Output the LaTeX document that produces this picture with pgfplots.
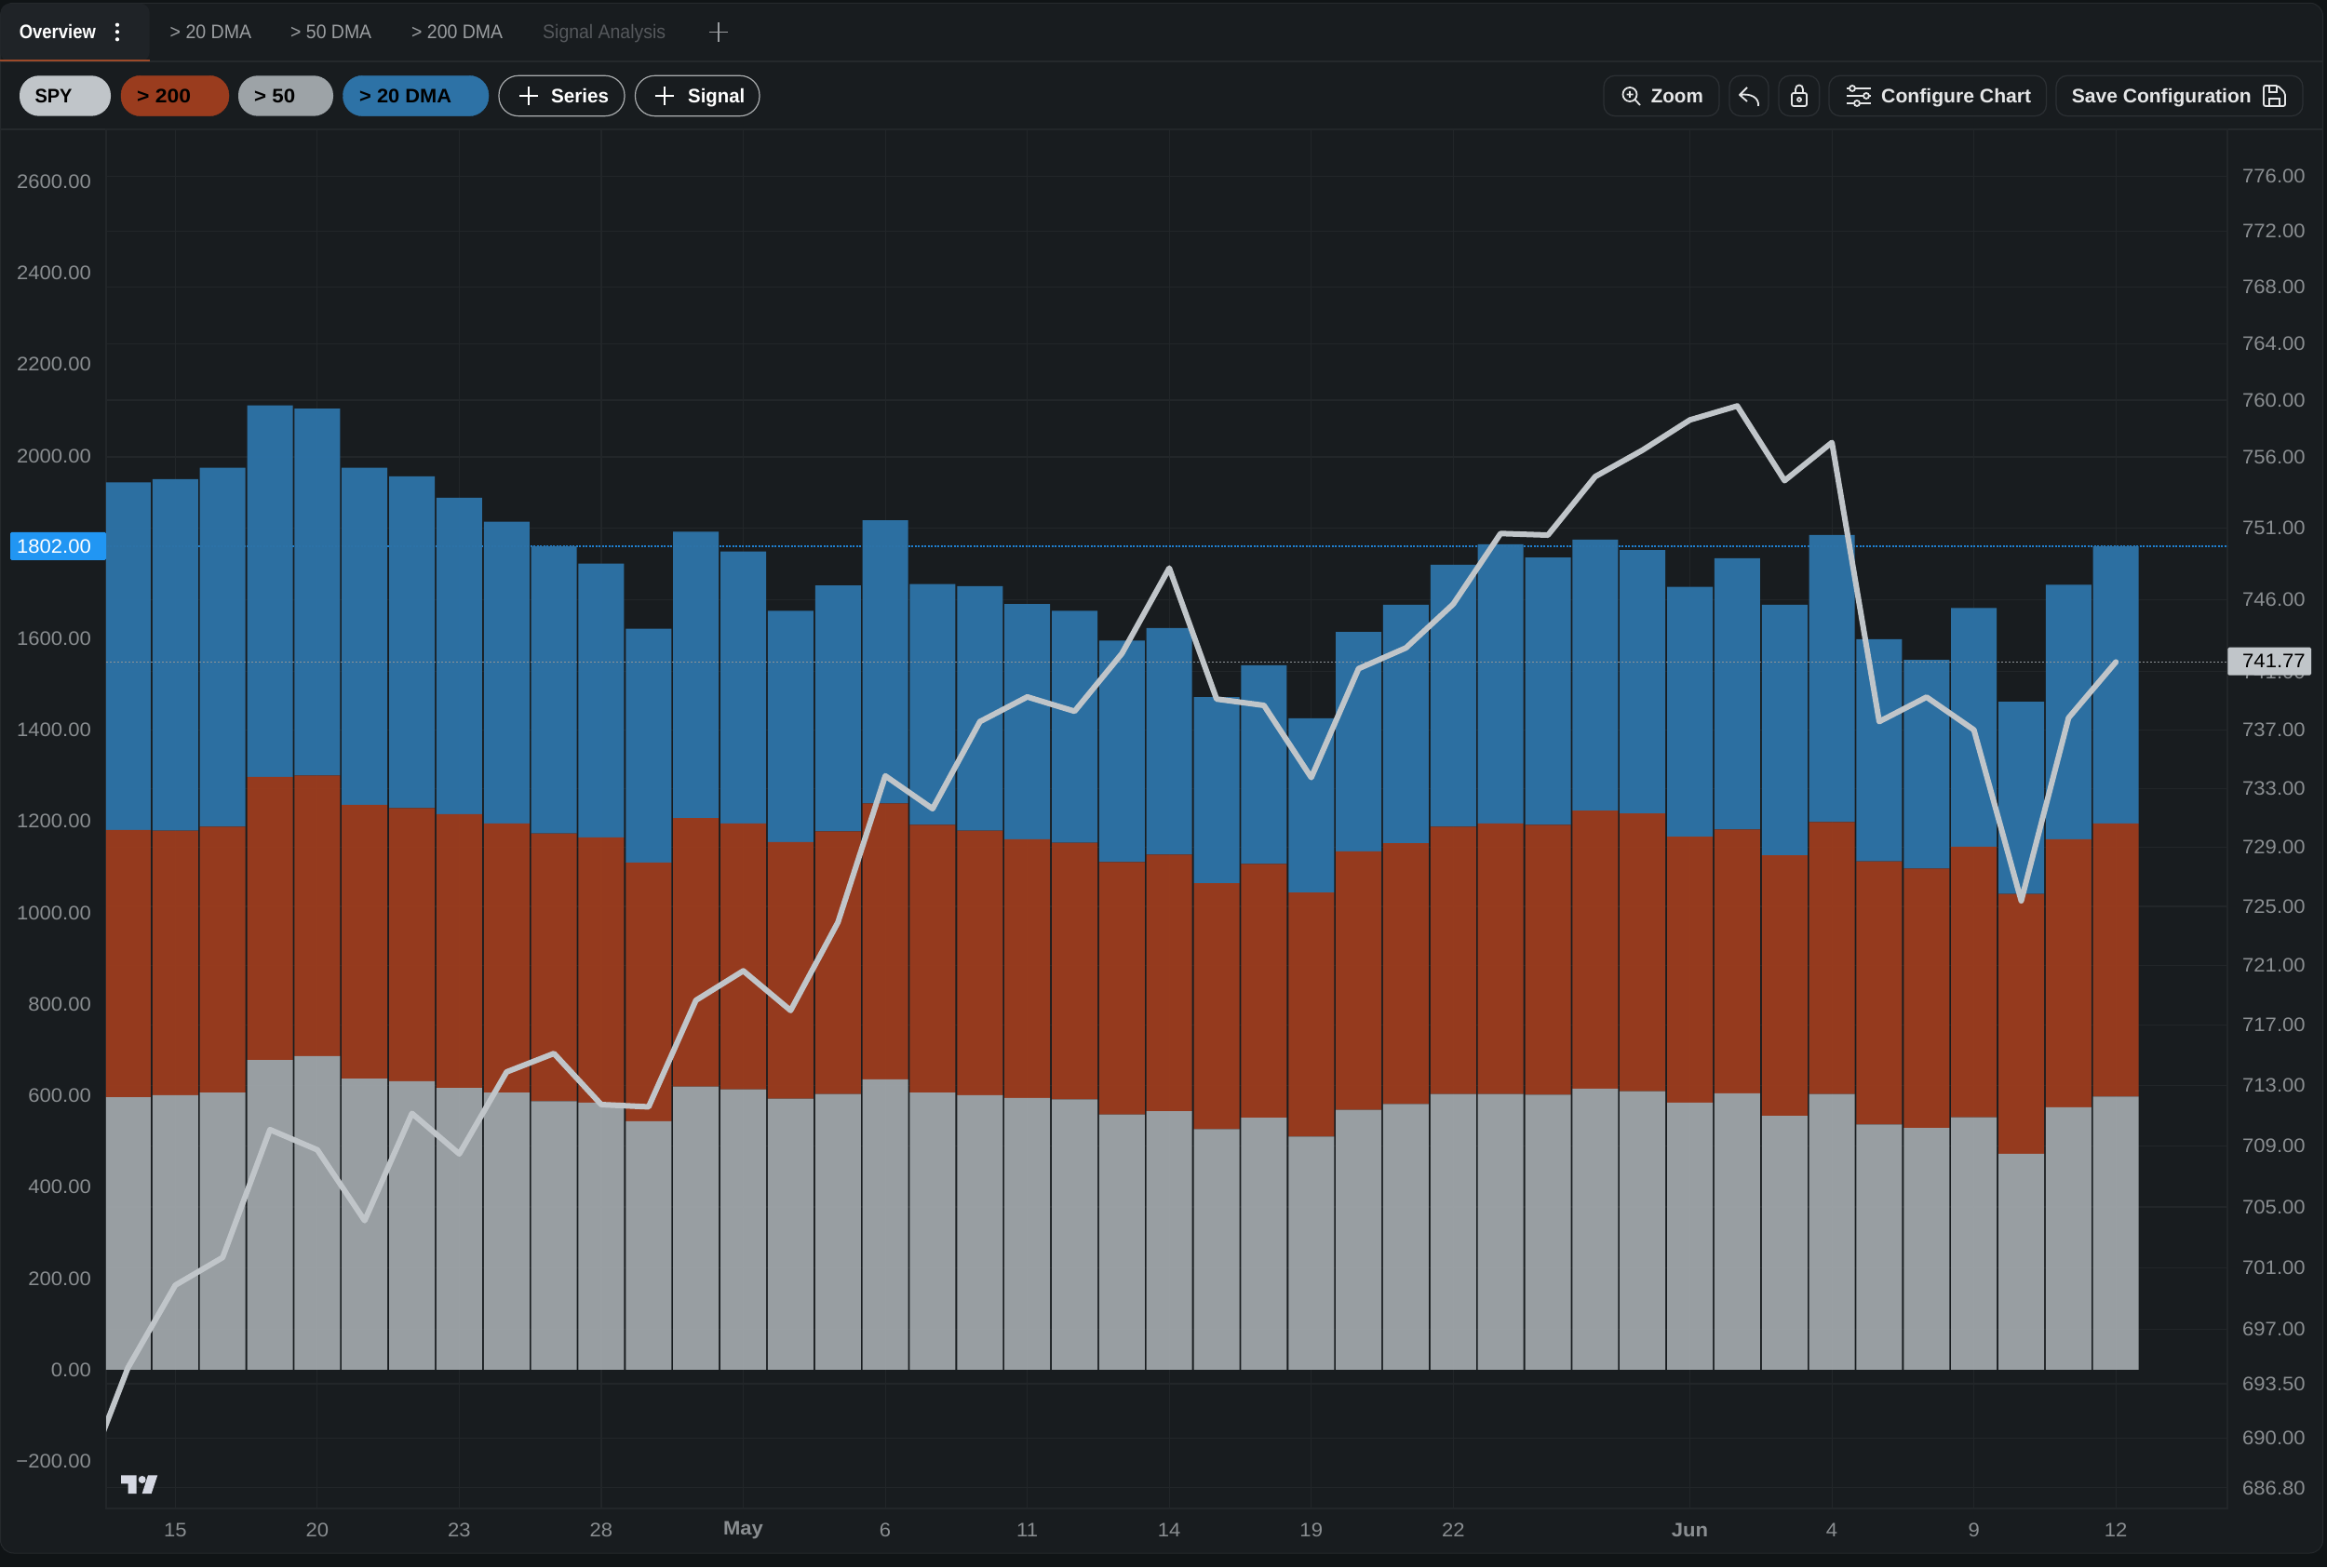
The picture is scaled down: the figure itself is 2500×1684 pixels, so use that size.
\documentclass[border=0pt]{standalone}
\usepackage{graphicx}
\usepackage{fontspec}
\setmainfont[FakeStretch=1.05]{Liberation Sans}
\newfontfamily\uireg{Liberation Sans}
\newcommand{\uimed}{\uireg\bfseries}
\usepackage{pgfplots}
\usepackage{pgfplotstable}
\pgfplotsset{compat=1.18}
\definecolor{pagebg}{HTML}{101416}
\definecolor{panelbg}{HTML}{181C1F}
\definecolor{tabbg}{HTML}{1F2327}
\definecolor{sep}{HTML}{25292C}
\definecolor{gridc}{HTML}{222629}
\definecolor{ticktxt}{HTML}{8A8E91}
\definecolor{barblue}{HTML}{2D72A6}
\definecolor{barred}{HTML}{9A3C1E}
\definecolor{bargrey}{HTML}{9DA3A7}
\definecolor{spyc}{HTML}{C0C5C9}
\definecolor{btnborder}{HTML}{2B2F33}
\definecolor{btntxt}{HTML}{E5E6E7}
\definecolor{tabtxt}{HTML}{9A9DA0}
\definecolor{tabdim}{HTML}{55585C}
\definecolor{tabline}{HTML}{9C4A2A}
\definecolor{outline}{HTML}{A9ACAE}
\definecolor{logoc}{HTML}{D5D8E3}
\definecolor{badge}{HTML}{2196F3}
\definecolor{refblue}{HTML}{1F7FCF}
\pgfplotstableread{
i grey red blue
0 596.3 584.7 760.7
1 600.7 578.9 769.4
2 606.5 581.8 785.4
3 677.8 619.6 813.1
4 686.5 613.8 802.9
5 637.1 599.3 737.4
6 631.3 597.8 725.8
7 616.7 599.3 692.3
8 606.5 589.1 660.3
9 587.6 586.2 628.3
10 584.7 580.3 599.3
11 544.0 565.8 512.0
12 619.6 587.6 626.9
13 613.8 581.8 594.9
14 593.4 561.4 506.2
15 603.6 574.5 538.2
16 635.6 603.6 619.6
17 606.5 586.2 526.5
18 600.7 578.9 535.3
19 594.9 565.8 514.9
20 592.0 561.4 507.6
21 558.5 552.7 484.3
22 565.8 561.4 496.0
23 526.5 538.2 407.3
24 551.3 555.6 434.9
25 510.5 533.8 381.1
26 568.7 565.8 480.0
27 581.8 570.2 522.2
28 603.6 584.7 573.1
29 603.6 592.0 610.9
30 602.2 590.5 584.7
31 615.3 608.0 593.4
32 609.4 608.0 576.0
33 584.7 581.8 546.9
34 605.1 577.4 593.4
35 555.6 570.2 548.3
36 603.6 594.9 628.3
37 536.7 576.0 485.8
38 529.4 567.3 456.7
39 552.7 592.0 522.2
40 472.7 568.7 420.3
41 574.5 586.2 557.1
42 597.8 597.8 606.5
}\barsdata
\pgfplotstableread{
i price
-1 686.70
0 694.54
1 699.93
2 701.71
3 710.14
4 708.74
5 704.15
6 711.20
7 708.52
8 713.98
9 715.21
10 711.77
11 711.63
12 718.72
13 720.68
14 718.05
15 723.94
16 733.86
17 731.64
18 737.64
19 739.33
20 738.28
21 742.32
22 748.22
23 739.20
24 738.69
25 733.82
26 741.30
27 742.77
28 745.72
29 750.63
30 750.54
31 754.68
32 756.55
33 758.62
34 759.65
35 754.35
36 757.11
37 737.64
38 739.29
39 737.05
40 725.47
41 737.83
42 741.77
}\pricedata
% x y(center) width colour font text
\newcommand{\T}[6]{\node[anchor=base west,inner sep=0pt,text=#4] at (#1,#2+7.5) {\resizebox{#3pt}{\height}{\fontsize{21}{24}\selectfont #5#6}};}
\pgfplotsset{base/.style={
  at={(114pt,63pt)},anchor=south west,scale only axis,width=2279pt,height=1482pt,
  xmin=-0.462,xmax=44.356,
  major tick length=0pt,minor tick length=0pt,
  tick label style={font=\fontsize{21}{24}\selectfont,text=ticktxt,inner sep=0pt},
}}
\begin{document}
\begin{tikzpicture}
\path[use as bounding box] (0,0) rectangle (2500pt,1684pt);
% page and panel
\fill[pagebg] (0,0) rectangle (2500pt,1684pt);
\begin{scope}[x=1pt,y=-1pt,yshift=1684pt]
\filldraw[fill=panelbg,draw=sep,line width=1pt,rounded corners=14pt] (0.5,3.3) rectangle (2495.5,1669);
\fill[tabbg,rounded corners=10pt] (0.5,3.8) -- (160.7,3.8) -- (160.7,66) -- (0.5,66) -- cycle;
\draw[sep,line width=1.3pt] (0,66) -- (2495.5,66);
\draw[sep,line width=1.3pt] (0,139) -- (2495.5,139);
\draw[tabline,line width=2pt] (0,65.5) -- (160.7,65.5);
\end{scope}
% grid, right scale and x labels
\begin{axis}[base,
  y coord trafo/.code={\pgfmathparse{ln(#1)}},
  ymin=685.49,ymax=779.4,
  axis line style={draw=gridc,line width=1.4pt},
  grid=major,grid style={draw=gridc,line width=1.2pt},
  xtick={1,4,7,10,13,16,19,22,25,28,33,36,39,42},
  xticklabels={15,20,23,28,{\bfseries May},6,11,14,19,22,{\bfseries Jun},4,9,12},
  xticklabel style={anchor=center,yshift=-23pt},
  ytick={686.8,690,693.5,697,701,705,709,713,717,721,725,729,733,737,741,746,751,756,760,764,768,772,776},
  yticklabels={686.80,690.00,693.50,697.00,701.00,705.00,709.00,713.00,717.00,721.00,725.00,729.00,733.00,737.00,741.00,746.00,751.00,756.00,760.00,764.00,768.00,772.00,776.00},
  yticklabel pos=right,
  yticklabel style={anchor=west,xshift=16pt},
]
\end{axis}
% stacked bars, left scale
\begin{axis}[base,
  ymin=-303.4,ymax=2714.3,
  ybar stacked,bar width=49pt,
  axis line style={draw=none},
  xtick=\empty,
  ytick={-200,0,200,400,600,800,1000,1200,1400,1600,1800,2000,2200,2400,2600},
  yticklabels={−200.00,0.00,200.00,400.00,600.00,800.00,1000.00,1200.00,1400.00,1600.00,1800.00,2000.00,2200.00,2400.00,2600.00},
  yticklabel style={anchor=east,xshift=-16pt},
]
\addplot[fill=bargrey,draw=none,fill opacity=0.97] table[x=i,y=grey]{\barsdata};
\addplot[fill=barred,draw=none,fill opacity=0.97] table[x=i,y=red]{\barsdata};
\addplot[fill=barblue,draw=none,fill opacity=0.97] table[x=i,y=blue]{\barsdata};
\draw[color=refblue,line width=1.2pt,dash pattern=on 2pt off 1.5pt] (axis cs:-1,1802) -- (axis cs:45,1802);
\end{axis}
% price line
\begin{axis}[base,
  y coord trafo/.code={\pgfmathparse{ln(#1)}},
  ymin=685.49,ymax=779.4,hide axis,
]
\addplot[spyc!70!panelbg,line width=1pt,dash pattern=on 2pt off 2pt,forget plot] coordinates {(-0.462,741.77) (44.356,741.77)};
\addplot[spyc,line width=6pt,line join=round,line cap=round,no marks] table[x=i,y=price]{\pricedata};
\end{axis}
% interface
\begin{scope}[x=1pt,y=-1pt,yshift=1684pt]
\T{20.7}{34}{82}{white}{\uimed}{Overview}
\foreach \yy in {26.7,34.3,42.3} \fill[white] (126,\yy) circle (2.1);
\T{182.5}{34}{87.5}{tabtxt}{\uireg}{> 20 DMA}
\T{312}{34}{87}{tabtxt}{\uireg}{> 50 DMA}
\T{442}{34}{98}{tabtxt}{\uireg}{> 200 DMA}
\T{583}{34}{132}{tabdim}{\uireg}{Signal Analysis}
\draw[tabtxt,line width=1.8pt] (762.3,34.5) -- (782,34.5) (772,24) -- (772,45);
% pills
\fill[spyc,rounded corners=21pt] (21,81.3) rectangle (119,124.7);
\filldraw[fill=barred,draw=barred,rounded corners=21pt] (130,81.3) rectangle (246,124.7);
\fill[bargrey,rounded corners=21pt] (256,81.3) rectangle (358,124.7);
\filldraw[fill=barblue,draw=barblue,rounded corners=21pt] (368.5,81.3) rectangle (525,124.7);
\draw[outline,line width=1.2pt,rounded corners=21pt] (536,81.3) rectangle (671,124.7);
\draw[outline,line width=1.2pt,rounded corners=21pt] (682.5,81.3) rectangle (816,124.7);
\T{37.3}{103}{40}{black}{\uimed}{SPY}
\T{147}{103}{58}{black}{\uimed}{> 200}
\T{273}{103}{44}{black}{\uimed}{> 50}
\T{386}{103}{99}{black}{\uimed}{> 20 DMA}
\draw[white,line width=2pt] (558,103) -- (578,103) (568,93) -- (568,113);
\T{592}{103}{62}{white}{\uimed}{Series}
\draw[white,line width=2pt] (703.5,103) -- (723.5,103) (713.5,93) -- (713.5,113);
\T{739}{103}{61}{white}{\uimed}{Signal}
% right buttons
\foreach \a/\b in {1723/1847,1858/1900,1911/1954.6,1965/2198.5,2209/2474}
  \draw[btnborder,line width=1.3pt,rounded corners=12pt] (\a,81.3) rectangle (\b,124.7);
\T{1773.6}{103}{56}{btntxt}{\uimed}{Zoom}
\T{2021}{103}{161}{btntxt}{\uimed}{Configure Chart}
\T{2225.6}{103}{193}{btntxt}{\uimed}{Save Configuration}
\begin{scope}[btntxt,line width=1.8pt]
\draw (1751,101.5) circle (7.5) (1756.5,107) -- (1762,113) (1747.5,101.5) -- (1754.5,101.5) (1751,98) -- (1751,105);
\draw[line join=round] (1877,94) -- (1869,102) -- (1877,109) (1869,102) .. controls (1881,100) and (1890,105) .. (1889,114);
\draw[rounded corners=2pt] (1925,100) rectangle (1941,114);
\draw (1929,100) -- (1929,96) .. controls (1929,90) and (1937,90) .. (1937,96) -- (1937,100) (1933,107) circle (2);
\draw (1984.4,95) -- (1987,95) (1993,95) -- (2010,95) (1984.4,103) -- (2002,103) (2008,103) -- (2010,103) (1984.4,111) -- (1992,111) (1998,111) -- (2010,111);
\draw (1990,95) circle (3) (2005,103) circle (3) (1995,111) circle (3);
\draw[rounded corners=2pt] (2432,92) -- (2447,92) -- (2455,100) -- (2455,114) -- (2432,114) -- cycle;
\draw (2438,92) -- (2438,99) -- (2446,99) -- (2446,92) (2438,114) -- (2438,106) -- (2449,106) -- (2449,114);
\end{scope}
% tradingview mark
\fill[logoc] (130,1585.3) -- (146.7,1585.3) -- (146.7,1605) -- (137.7,1605) -- (137.7,1594.3) -- (130,1594.3) -- cycle;
\fill[logoc] (152.7,1590) circle (4);
\fill[logoc] (159,1585.3) -- (169.3,1585.3) -- (162.7,1605) -- (152.7,1605) -- cycle;
% value badges
\fill[badge,rounded corners=1.5pt] (11,572) rectangle (114,602);
\node[anchor=east,inner sep=0pt,text=white] at (98,587) {\fontsize{21}{24}\selectfont 1802.00};
\fill[spyc,rounded corners=1.5pt] (2393.3,695.7) rectangle (2483,725.7);
\node[anchor=west,inner sep=0pt,text=black] at (2409,710.7) {\fontsize{21}{24}\selectfont 741.77};
\end{scope}
\end{tikzpicture}
\end{document}
